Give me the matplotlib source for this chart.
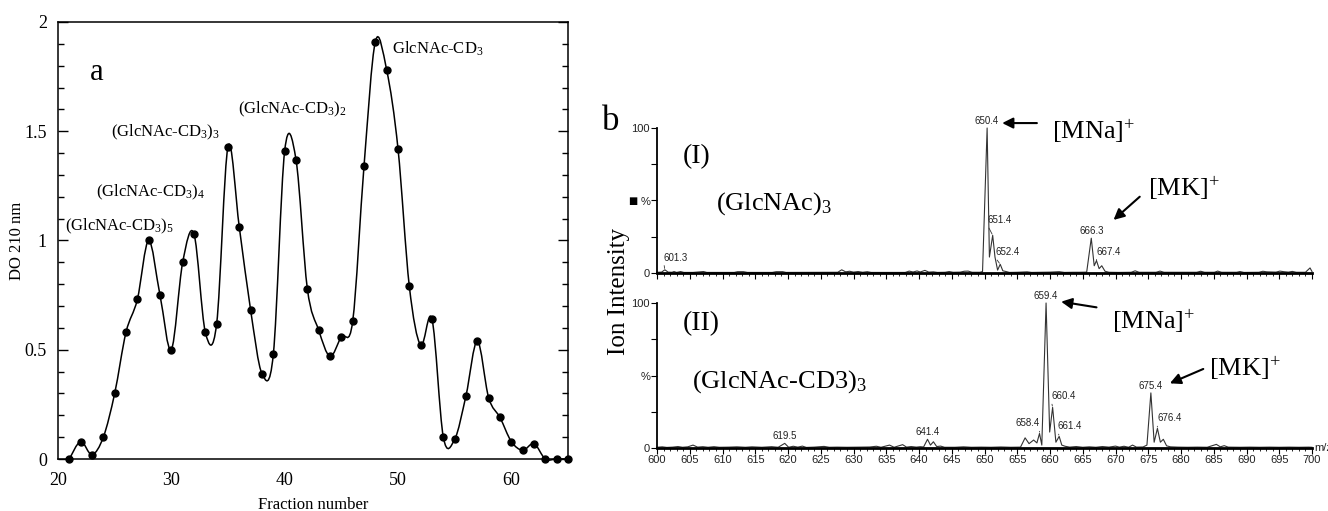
import numpy as np
import matplotlib
matplotlib.use('Agg')
import matplotlib.pyplot as plt
from matplotlib.path import Path
from matplotlib.patches import PathPatch
from matplotlib.ticker import MultipleLocator

plt.rcParams['font.family'] = ['Liberation Serif', 'DejaVu Serif']
plt.rcParams['mathtext.default'] = 'regular'

# ---- panel a: elution profile ----
fraction = list(range(21, 66))
do210 = [0.00, 0.08, 0.02, 0.10, 0.30, 0.58, 0.73, 1.00, 0.75, 0.50,
         0.90, 1.03, 0.58, 0.62, 1.43, 1.06, 0.68, 0.39, 0.48, 1.41,
         1.37, 0.78, 0.59, 0.47, 0.56, 0.63, 1.34, 1.91, 1.78, 1.42,
         0.79, 0.52, 0.64, 0.10, 0.09, 0.29, 0.54, 0.28, 0.19, 0.08,
         0.04, 0.07, 0.00, 0.00, 0.00]
peak_names = [r'(GlcNAc-CD$_3$)$_5$', r'(GlcNAc-CD$_3$)$_4$', r'(GlcNAc-CD$_3$)$_3$',
              r'(GlcNAc-CD$_3$)$_2$', r'GlcNAc-CD$_3$']
peak_name_pos = [(20.6, 1.048), (23.35, 1.20), (24.67, 1.475), (35.9, 1.582), (49.5, 1.857)]

# ---- panel b: mass spectra ----
mz_I = [600.0, 600.7, 601.2, 601.7, 602.3, 602.6, 603.0, 603.6, 604.1, 605.5,
        607.1, 607.6, 611.8, 612.3, 613.2, 613.8, 617.6, 618.2, 619.2, 619.7,
        627.6, 628.2, 628.8, 629.4, 630.0, 630.7, 631.4, 632.1, 632.7, 637.9,
        638.5, 639.1, 639.7, 640.2, 640.9, 641.5, 642.2, 642.8, 644.0, 644.6,
        645.2, 646.3, 646.9, 647.5, 648.1, 649.3, 649.7, 650.4, 650.75, 651.25,
        651.6, 652.0, 652.4, 652.8, 653.3, 653.8, 655.0, 656.5, 657.2, 660.0,
        661.4, 662.2, 663.5, 664.5, 665.6, 666.3, 666.75, 667.1, 667.5, 667.9,
        668.4, 669.0, 670.5, 672.4, 673.0, 673.6, 676.2, 676.8, 677.4, 682.4,
        683.0, 683.6, 685.1, 685.6, 686.2, 688.5, 689.0, 689.6, 691.9, 692.5,
        693.1, 694.5, 695.1, 695.7, 696.4, 697.0, 697.6, 699.0, 699.7, 700.0]
int_I = [0.5, 0.6, 2.2, 0.6, 0.5, 1.0, 0.4, 1.0, 0.4, 0.4,
         1.0, 0.4, 0.4, 0.9, 0.9, 0.4, 0.4, 0.9, 0.9, 0.4,
         0.5, 2.2, 0.8, 1.2, 0.6, 1.0, 0.5, 0.9, 0.4, 0.4,
         1.3, 0.7, 1.4, 0.7, 1.8, 0.6, 0.8, 0.4, 0.5, 1.0,
         0.5, 0.6, 1.2, 1.3, 0.5, 0.5, 1.0, 100.0, 11.0, 26.0,
         11.0, 2.0, 6.0, 1.5, 1.0, 0.4, 0.5, 0.8, 0.4, 0.6,
         0.9, 0.4, 0.5, 0.5, 0.6, 24.0, 5.0, 8.5, 3.0, 5.0,
         1.2, 0.5, 0.4, 0.5, 1.5, 0.5, 0.5, 1.3, 0.5, 0.5,
         1.2, 0.5, 0.5, 1.3, 0.5, 0.5, 1.0, 0.4, 0.5, 1.2,
         0.8, 0.6, 1.3, 0.9, 0.6, 1.1, 0.5, 0.5, 3.5, 1.0]

mz_II = [600.0, 600.8, 601.5, 602.4, 603.2, 603.9, 604.7, 605.5, 606.2, 607.0,
         607.8, 608.7, 609.5, 611.0, 612.2, 613.5, 614.5, 616.0, 617.5, 618.5,
         619.5, 620.1, 620.8, 621.5, 622.2, 622.8, 624.0, 625.5, 626.3, 627.5,
         629.0, 631.0, 632.5, 633.5, 634.2, 635.5, 636.2, 637.5, 638.1, 638.8,
         639.6, 640.2, 640.7, 641.3, 641.75, 642.2, 642.7, 643.3, 643.9, 645.5,
         646.8, 648.0, 649.5, 651.0, 652.5, 654.0, 655.5, 656.2, 656.8, 657.5,
         658.0, 658.4, 658.75, 659.4, 659.95, 660.4, 660.9, 661.4, 661.8, 662.3,
         663.0, 664.0, 665.0, 666.0, 667.0, 668.0, 669.0, 670.0, 670.6, 671.3,
         672.0, 672.6, 673.2, 674.2, 674.8, 675.4, 675.9, 676.4, 676.85, 677.3,
         677.8, 678.4, 679.5, 681.0, 682.5, 684.0, 685.4, 686.0, 686.6, 687.2,
         689.0, 690.5, 692.0, 693.5, 695.0, 696.5, 698.0, 699.5, 700.0]
int_II = [0.5, 0.8, 0.4, 0.6, 1.0, 0.5, 0.8, 2.0, 0.6, 0.9,
          0.5, 0.9, 0.5, 0.6, 0.8, 0.5, 0.8, 0.5, 0.9, 0.5,
          3.2, 0.5, 1.2, 0.6, 1.3, 0.4, 0.6, 1.1, 0.5, 0.6,
          0.5, 0.6, 0.7, 1.2, 0.5, 2.0, 0.5, 2.3, 0.6, 1.0,
          0.6, 0.9, 0.7, 6.0, 2.0, 4.3, 1.0, 1.3, 0.5, 0.5,
          0.8, 0.5, 0.6, 0.5, 0.7, 0.5, 0.6, 7.0, 3.0, 5.5,
          3.5, 10.0, 2.0, 100.0, 11.0, 28.0, 4.0, 8.0, 2.0, 1.2,
          0.6, 1.0, 0.5, 0.8, 0.5, 1.0, 0.6, 1.3, 0.6, 1.2,
          0.5, 2.0, 0.6, 0.7, 2.0, 38.0, 4.0, 13.5, 4.0, 6.0,
          1.5, 0.8, 0.6, 0.5, 0.6, 0.5, 2.5, 0.8, 1.6, 0.6,
          0.5, 0.6, 0.5, 0.6, 0.5, 0.6, 0.5, 0.6, 0.5]

labels_I = [601.3, 650.4, 651.4, 652.4, 666.3, 667.4]
labels_II = [619.5, 641.4, 658.4, 659.4, 660.4, 661.4, 675.4, 676.4]
# label offsets in pixels from the peak top (None = straight above, no leader)
offsets_I = [(11, 12), None, (7, 15), (7, 12), None, (12, 9)]
offsets_II = [None, None, (-12, 10), None, (11, 11), (11, 10), None, (12, 10)]


def spline_path(xs, ys):
    pts = np.column_stack([xs, ys]).astype(float)
    ext = np.vstack([pts[0], pts, pts[-1]])
    verts = [pts[0]]
    codes = [Path.MOVETO]
    for i in range(1, len(ext) - 2):
        p0, p1, p2, p3 = ext[i - 1], ext[i], ext[i + 1], ext[i + 2]
        verts += [p1 + (p2 - p0) / 6, p2 - (p3 - p1) / 6, p2]
        codes += [Path.CURVE4] * 3
    return Path(verts, codes)


fig = plt.figure(figsize=(13.28, 5.11), dpi=100)

# ---------------- panel a ----------------
axA = fig.add_axes([58 / 1328, 1 - 459 / 511, 510 / 1328, 437 / 511])
axA.add_patch(PathPatch(spline_path(fraction, do210), fill=False, lw=1.1,
                        edgecolor='black', clip_on=False))
axA.plot(fraction, do210, 'o', color='black', ms=5, clip_on=False, zorder=3)
axA.set_xlim(20, 65)
axA.set_ylim(0, 2)
axA.set_xticks([20, 30, 40, 50, 60])
axA.set_yticks([0, 0.5, 1, 1.5, 2])
axA.set_yticklabels(['0', '0.5', '1', '1.5', '2'])
axA.yaxis.set_minor_locator(MultipleLocator(0.1))
axA.tick_params(axis='y', which='major', direction='in', left=True, right=True,
                length=7, width=1, labelsize=13, pad=8)
axA.tick_params(axis='y', which='minor', direction='in', left=True, right=True,
                length=4, width=1)
axA.tick_params(axis='x', direction='in', length=0, labelsize=13, pad=9)
for s in axA.spines.values():
    s.set_linewidth(1.1)
axA.set_xlabel('Fraction number', fontsize=12, labelpad=6)
axA.set_ylabel('DO 210 nm', fontsize=12)
axA.yaxis.set_label_coords(-0.064, 0.5)
axA.text(23.4, 1.767, 'a', fontsize=22, ha='center', va='center')
for name, (x, y) in zip(peak_names, peak_name_pos):
    axA.text(x, y, name, fontsize=12, ha='left', va='baseline')

# ---------------- panel b ----------------
fig.text(611 / 1328, 1 - 122 / 511, 'b', fontsize=25, ha='center', va='center')
fig.text(619 / 1328, 1 - 291 / 511, 'Ion Intensity', fontsize=18, rotation=90,
         ha='center', va='center')

axI = fig.add_axes([657 / 1328, 1 - 273 / 511, 655 / 1328, 145 / 511])
axII = fig.add_axes([657 / 1328, 1 - 448 / 511, 655 / 1328, 145 / 511])

for ax, mz, inten, labs, offs in [(axI, mz_I, int_I, labels_I, offsets_I),
                                  (axII, mz_II, int_II, labels_II, offsets_II)]:
    ax.plot(mz, inten, color='#333333', lw=0.8, clip_on=False)
    ax.set_xlim(600, 700)
    ax.set_ylim(0, 100)
    ax.spines['top'].set_visible(False)
    ax.spines['right'].set_visible(False)
    ax.spines['bottom'].set_linewidth(2)
    ax.spines['left'].set_linewidth(1.3)
    ax.set_xticks(np.arange(600, 701, 5))
    ax.xaxis.set_minor_locator(MultipleLocator(1))
    ax.set_yticks([0, 25, 50, 75, 100])
    ax.set_yticklabels(['0', '', '%', '', '100'])
    ax.tick_params(axis='both', which='major', direction='out', length=4, width=0.8,
                   labelsize=8, pad=1, labelfontfamily='Liberation Sans',
                   labelcolor='#222222')
    ax.tick_params(axis='x', which='minor', direction='out', length=2, width=0.6)
    ax.patch.set_alpha(0)
    mz_arr = np.array(mz)
    in_arr = np.array(inten)
    for lab, off in zip(labs, offs):
        near = np.abs(mz_arr - lab) <= 0.5
        k = np.flatnonzero(near)[np.argmax(in_arr[near])]
        xy = (mz_arr[k], in_arr[k])
        if off is None:
            ax.annotate(f'{lab:.1f}', xy, xytext=(0, 2), textcoords='offset pixels',
                        ha='center', va='bottom', fontsize=7,
                        family='Liberation Sans', color='#222222')
        else:
            ax.annotate(f'{lab:.1f}', xy, xytext=off, textcoords='offset pixels',
                        ha='center', va='center', fontsize=7,
                        family='Liberation Sans', color='#222222',
                        arrowprops=dict(arrowstyle='-', lw=0.6, color='#333333',
                                        shrinkA=0, shrinkB=1,
                                        relpos=(0, 0) if off[0] > 0 else (1, 0)))

axI.set_xticklabels([])
axI.text(596.3, 50, '\u25a0', fontsize=7, ha='center', va='center',
         family='DejaVu Sans')
axII.text(700.4, 0, 'm/z', fontsize=8, ha='left', va='center',
          family='Liberation Sans', color='#222222')

axI.text(606.0, 80, '(I)', fontsize=20, ha='center', va='center')
axI.text(609.0, 43.5, r'(GlcNAc)$_3$', fontsize=19, ha='left', va='baseline')
axII.text(606.8, 86, '(II)', fontsize=20, ha='center', va='center')
axII.text(605.3, 41.8, r'(GlcNAc-CD3)$_3$', fontsize=19, ha='left', va='baseline')

arrow = dict(arrowstyle='-|>', lw=1.5, color='black', mutation_scale=16,
             shrinkA=0, shrinkB=0)
axI.text(660.3, 92, r'$[MNa]^{+}$', fontsize=19, ha='left', va='baseline')
axI.annotate('', xy=(652.7, 103.4), xytext=(658.0, 103.4), arrowprops=arrow,
             annotation_clip=False)
axI.text(675.0, 52.6, r'$[MK]^{+}$', fontsize=19, ha='left', va='baseline')
axI.annotate('', xy=(669.7, 36.6), xytext=(673.7, 52.6), arrowprops=arrow)
axII.text(669.5, 81.8, r'$[MNa]^{+}$', fontsize=19, ha='left', va='baseline')
axII.annotate('', xy=(661.7, 100.9), xytext=(667.1, 97.0), arrowprops=arrow,
              annotation_clip=False)
axII.text(684.2, 49.2, r'$[MK]^{+}$', fontsize=19, ha='left', va='baseline')
axII.annotate('', xy=(678.3, 44.6), xytext=(683.4, 54.5), arrowprops=arrow)

fig.savefig('out.png', dpi=100)
